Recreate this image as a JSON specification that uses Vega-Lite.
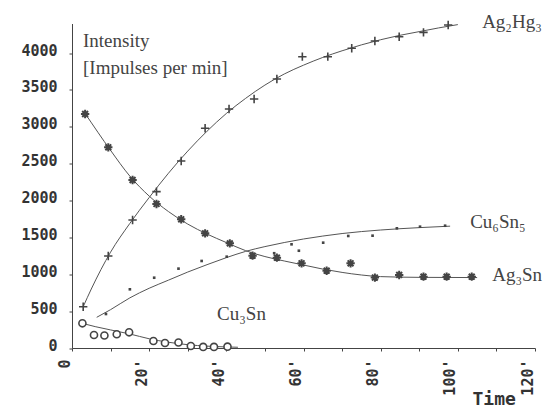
{
  "$schema": "https://vega.github.io/schema/vega-lite/v6.json",
  "autosize": "none",
  "width": 463,
  "height": 324.5,
  "padding": {"left": 72, "top": 23.5, "right": 15, "bottom": 63},
  "background": "white",
  "config": {"view": {"stroke": null}},
  "datasets": {
    "pts": [
      {"s": "Ag2Hg3", "t": 2.9, "v": 560}, {"s": "Ag2Hg3", "t": 9.4, "v": 1247}, {"s": "Ag2Hg3", "t": 15.7, "v": 1735}, {"s": "Ag2Hg3", "t": 21.9, "v": 2120}, {"s": "Ag2Hg3", "t": 28.3, "v": 2535}, {"s": "Ag2Hg3", "t": 34.5, "v": 2979}, {"s": "Ag2Hg3", "t": 40.7, "v": 3241}, {"s": "Ag2Hg3", "t": 47.2, "v": 3376}, {"s": "Ag2Hg3", "t": 53.1, "v": 3647}, {"s": "Ag2Hg3", "t": 59.7, "v": 3950}, {"s": "Ag2Hg3", "t": 66.3, "v": 3950}, {"s": "Ag2Hg3", "t": 72.5, "v": 4064}, {"s": "Ag2Hg3", "t": 78.5, "v": 4163}, {"s": "Ag2Hg3", "t": 84.8, "v": 4221}, {"s": "Ag2Hg3", "t": 91.1, "v": 4280}, {"s": "Ag2Hg3", "t": 97.5, "v": 4380},
      {"s": "Ag3Sn", "t": 3.4, "v": 3173}, {"s": "Ag3Sn", "t": 9.4, "v": 2721}, {"s": "Ag3Sn", "t": 15.7, "v": 2278}, {"s": "Ag3Sn", "t": 21.9, "v": 1953}, {"s": "Ag3Sn", "t": 28.3, "v": 1745}, {"s": "Ag3Sn", "t": 34.5, "v": 1555}, {"s": "Ag3Sn", "t": 40.9, "v": 1419}, {"s": "Ag3Sn", "t": 46.8, "v": 1252}, {"s": "Ag3Sn", "t": 53.1, "v": 1225}, {"s": "Ag3Sn", "t": 59.5, "v": 1148}, {"s": "Ag3Sn", "t": 66.0, "v": 1048}, {"s": "Ag3Sn", "t": 72.2, "v": 1148}, {"s": "Ag3Sn", "t": 78.5, "v": 955}, {"s": "Ag3Sn", "t": 84.8, "v": 990}, {"s": "Ag3Sn", "t": 91.1, "v": 967}, {"s": "Ag3Sn", "t": 97.1, "v": 967}, {"s": "Ag3Sn", "t": 103.6, "v": 967},
      {"s": "Cu6Sn5", "t": 8.8, "v": 461}, {"s": "Cu6Sn5", "t": 15.0, "v": 796}, {"s": "Cu6Sn5", "t": 21.3, "v": 953}, {"s": "Cu6Sn5", "t": 27.6, "v": 1076}, {"s": "Cu6Sn5", "t": 33.6, "v": 1180}, {"s": "Cu6Sn5", "t": 40.1, "v": 1238}, {"s": "Cu6Sn5", "t": 52.4, "v": 1285}, {"s": "Cu6Sn5", "t": 56.9, "v": 1406}, {"s": "Cu6Sn5", "t": 58.8, "v": 1319}, {"s": "Cu6Sn5", "t": 65.1, "v": 1428}, {"s": "Cu6Sn5", "t": 71.6, "v": 1519}, {"s": "Cu6Sn5", "t": 77.9, "v": 1523}, {"s": "Cu6Sn5", "t": 84.2, "v": 1623}, {"s": "Cu6Sn5", "t": 90.2, "v": 1645}, {"s": "Cu6Sn5", "t": 96.7, "v": 1658},
      {"s": "Cu3Sn", "t": 2.7, "v": 335}, {"s": "Cu3Sn", "t": 5.7, "v": 176}, {"s": "Cu3Sn", "t": 8.4, "v": 170}, {"s": "Cu3Sn", "t": 11.6, "v": 186}, {"s": "Cu3Sn", "t": 14.8, "v": 213}, {"s": "Cu3Sn", "t": 21.1, "v": 95}, {"s": "Cu3Sn", "t": 24.1, "v": 68}, {"s": "Cu3Sn", "t": 27.6, "v": 75}, {"s": "Cu3Sn", "t": 30.8, "v": 27}, {"s": "Cu3Sn", "t": 34.0, "v": 15}, {"s": "Cu3Sn", "t": 36.8, "v": 15}, {"s": "Cu3Sn", "t": 40.3, "v": 18}
    ],
    "curves": [
      {"s": "Ag2Hg3", "t": 2.9, "v": 560}, {"s": "Ag2Hg3", "t": 5, "v": 800}, {"s": "Ag2Hg3", "t": 10, "v": 1300}, {"s": "Ag2Hg3", "t": 15, "v": 1690}, {"s": "Ag2Hg3", "t": 20, "v": 2040}, {"s": "Ag2Hg3", "t": 25, "v": 2370}, {"s": "Ag2Hg3", "t": 30, "v": 2670}, {"s": "Ag2Hg3", "t": 35, "v": 2940}, {"s": "Ag2Hg3", "t": 40, "v": 3180}, {"s": "Ag2Hg3", "t": 45, "v": 3385}, {"s": "Ag2Hg3", "t": 50, "v": 3565}, {"s": "Ag2Hg3", "t": 55, "v": 3715}, {"s": "Ag2Hg3", "t": 60, "v": 3835}, {"s": "Ag2Hg3", "t": 65, "v": 3940}, {"s": "Ag2Hg3", "t": 70, "v": 4030}, {"s": "Ag2Hg3", "t": 75, "v": 4110}, {"s": "Ag2Hg3", "t": 80, "v": 4180}, {"s": "Ag2Hg3", "t": 85, "v": 4240}, {"s": "Ag2Hg3", "t": 90, "v": 4290}, {"s": "Ag2Hg3", "t": 95, "v": 4340}, {"s": "Ag2Hg3", "t": 100, "v": 4385},
      {"s": "Ag3Sn", "t": 3.4, "v": 3180}, {"s": "Ag3Sn", "t": 10, "v": 2680}, {"s": "Ag3Sn", "t": 15, "v": 2330}, {"s": "Ag3Sn", "t": 20, "v": 2060}, {"s": "Ag3Sn", "t": 25, "v": 1850}, {"s": "Ag3Sn", "t": 30, "v": 1680}, {"s": "Ag3Sn", "t": 35, "v": 1545}, {"s": "Ag3Sn", "t": 40, "v": 1430}, {"s": "Ag3Sn", "t": 45, "v": 1320}, {"s": "Ag3Sn", "t": 50, "v": 1240}, {"s": "Ag3Sn", "t": 55, "v": 1180}, {"s": "Ag3Sn", "t": 60, "v": 1125}, {"s": "Ag3Sn", "t": 65, "v": 1070}, {"s": "Ag3Sn", "t": 70, "v": 1025}, {"s": "Ag3Sn", "t": 75, "v": 990}, {"s": "Ag3Sn", "t": 80, "v": 968}, {"s": "Ag3Sn", "t": 90, "v": 958}, {"s": "Ag3Sn", "t": 105, "v": 955},
      {"s": "Cu6Sn5", "t": 6.4, "v": 416}, {"s": "Cu6Sn5", "t": 10, "v": 520}, {"s": "Cu6Sn5", "t": 15, "v": 680}, {"s": "Cu6Sn5", "t": 20, "v": 810}, {"s": "Cu6Sn5", "t": 25, "v": 920}, {"s": "Cu6Sn5", "t": 30, "v": 1030}, {"s": "Cu6Sn5", "t": 35, "v": 1130}, {"s": "Cu6Sn5", "t": 40, "v": 1225}, {"s": "Cu6Sn5", "t": 45, "v": 1310}, {"s": "Cu6Sn5", "t": 50, "v": 1375}, {"s": "Cu6Sn5", "t": 55, "v": 1430}, {"s": "Cu6Sn5", "t": 60, "v": 1478}, {"s": "Cu6Sn5", "t": 65, "v": 1518}, {"s": "Cu6Sn5", "t": 70, "v": 1552}, {"s": "Cu6Sn5", "t": 80, "v": 1600}, {"s": "Cu6Sn5", "t": 90, "v": 1632}, {"s": "Cu6Sn5", "t": 98, "v": 1652},
      {"s": "Cu3Sn", "t": 3.0, "v": 330}, {"s": "Cu3Sn", "t": 6, "v": 290}, {"s": "Cu3Sn", "t": 10, "v": 245}, {"s": "Cu3Sn", "t": 15, "v": 190}, {"s": "Cu3Sn", "t": 20, "v": 125}, {"s": "Cu3Sn", "t": 25, "v": 78}, {"s": "Cu3Sn", "t": 30, "v": 45}, {"s": "Cu3Sn", "t": 35, "v": 25}, {"s": "Cu3Sn", "t": 40, "v": 14}, {"s": "Cu3Sn", "t": 43, "v": 10}
    ],
    "labels": [
      {"txt": "Intensity", "t": 2.85, "v": 4085},
      {"txt": "[Impulses per min]", "t": 2.85, "v": 3715},
      {"txt": "Ag₂Hg₃", "t": 106.3, "v": 4339},
      {"txt": "Cu₆Sn₅", "t": 103.2, "v": 1627},
      {"txt": "Ag₃Sn", "t": 108.9, "v": 908},
      {"txt": "Cu₃Sn", "t": 37.6, "v": 380}
    ]
  },
  "encoding": {
    "x": {
      "field": "t", "type": "quantitative",
      "scale": {"domain": [0, 120], "nice": false, "zero": false},
      "axis": {
        "values": [0, 10, 20, 30, 40, 50, 60, 70, 80, 90, 100, 110, 120],
        "labelExpr": "datum.value % 20 == 0 ? (datum.value == 0 ? '0' : datum.value + \"'\") : ''",
        "labelAngle": 270,
        "labelOffset": -8,
        "labelPadding": 8,
        "labelFont": "DejaVu Sans Mono",
        "labelFontWeight": "bold",
        "labelFontSize": 15,
        "labelColor": "#333",
        "tickSize": 3,
        "tickColor": "#444",
        "domainColor": "#444",
        "grid": false,
        "title": "Time",
        "titleFont": "DejaVu Sans Mono",
        "titleFontWeight": "bold",
        "titleFontSize": 18,
        "titleColor": "#333",
        "titleAnchor": "start",
        "titleAlign": "left",
        "titleBaseline": "alphabetic",
        "titleX": 400,
        "titleY": 56
      }
    },
    "y": {
      "field": "v", "type": "quantitative",
      "scale": {"domain": [0, 4400], "nice": false},
      "axis": {
        "values": [0, 500, 1000, 1500, 2000, 2500, 3000, 3500, 4000],
        "format": "d",
        "labelFont": "DejaVu Sans Mono",
        "labelFontWeight": "bold",
        "labelFontSize": 15,
        "labelColor": "#333",
        "labelPadding": 12,
        "labelOffset": -3,
        "tickSize": 3,
        "tickColor": "#444",
        "domainColor": "#444",
        "grid": false,
        "title": null
      }
    }
  },
  "layer": [
    {
      "data": {"name": "curves"},
      "mark": {"type": "line", "interpolate": "monotone", "color": "#555", "strokeWidth": 1},
      "encoding": {"detail": {"field": "s"}}
    },
    {
      "data": {"name": "pts"},
      "transform": [{"filter": "datum.s == 'Ag2Hg3'"}],
      "mark": {"type": "point", "shape": "M-1,0L1,0M0,-1L0,1", "size": 70, "filled": false, "stroke": "#444", "strokeWidth": 1.6, "opacity": 1}
    },
    {
      "data": {"name": "pts"},
      "transform": [{"filter": "datum.s == 'Ag3Sn'"}],
      "mark": {"type": "point", "shape": "M-1,0L1,0M0,-1L0,1M-0.7,-0.7L0.7,0.7M-0.7,0.7L0.7,-0.7", "size": 70, "filled": false, "stroke": "#444", "strokeWidth": 2, "opacity": 1}
    },
    {
      "data": {"name": "pts"},
      "transform": [{"filter": "datum.s == 'Cu6Sn5'"}],
      "mark": {"type": "point", "shape": "square", "size": 7, "filled": true, "color": "#444", "opacity": 1}
    },
    {
      "data": {"name": "pts"},
      "transform": [{"filter": "datum.s == 'Cu3Sn'"}],
      "mark": {"type": "point", "shape": "circle", "size": 50, "filled": false, "stroke": "#444", "strokeWidth": 1.6, "fill": "white", "opacity": 1}
    },
    {
      "data": {"name": "labels"},
      "mark": {"type": "text", "align": "left", "baseline": "alphabetic", "font": "Liberation Serif", "fontSize": 19, "color": "#444"},
      "encoding": {"text": {"field": "txt"}}
    }
  ]
}
